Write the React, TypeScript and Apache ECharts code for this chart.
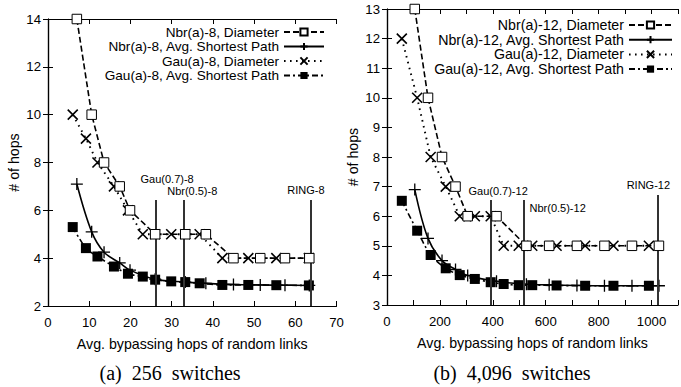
import React, { useEffect, useRef } from "react";
import * as echarts from "echarts";

// ---- (a) 256 switches ----
const nbrX8 = [7, 10.6, 13.6, 17.4, 19.9, 26, 33.3, 38.3, 45, 51.5, 57.5, 63.4];
const nbrDiaY8 = [14, 10, 8, 7, 6, 5, 5, 5, 4, 4, 4, 4];
const nbrAvgY8 = [7.1, 5.1, 4.25, 3.8, 3.5, 3.12, 3.0, 2.95, 2.9, 2.88, 2.87, 2.86];
const gauX8 = [6, 9.2, 12, 16, 19.4, 23, 26, 29.9, 33.3, 36.8, 42.3, 48.6, 55.4, 63.3];
const gauDiaY8 = [10, 9, 8, 7, 6, 5, 5, 5, 5, 5, 4, 4, 4, 4];
const gauAvgY8 = [5.3, 4.42, 4.07, 3.65, 3.35, 3.23, 3.1, 3.03, 3.0, 2.95, 2.88, 2.88, 2.87, 2.86];
const vlineX8 = [26.2, 32.9, 63.8];
const vlineTop8 = [6.43, 6.43, 6.43];
const annotNames8 = ["Gau(0.7)-8", "Nbr(0.5)-8", "RING-8"];
const annotX8 = [28.9, 35.0, 62.6];
const annotY8 = [7.31, 6.8, 6.85];

// ---- (b) 4,096 switches ----
const nbrX12 = [105, 155, 208, 259, 305, 414, 527, 613, 718, 822, 926, 1028];
const nbrDiaY12 = [13, 10, 8, 7, 6, 6, 5, 5, 5, 5, 5, 5];
const nbrAvgY12 = [6.9, 5.25, 4.5, 4.2, 4.0, 3.8, 3.7, 3.68, 3.66, 3.65, 3.65, 3.65];
const gauX12 = [56, 114, 165, 222, 275, 332, 392, 441, 498, 549, 641, 749, 856, 990];
const gauDiaY12 = [12, 10, 8, 7, 6, 6, 6, 5, 5, 5, 5, 5, 5, 5];
const gauAvgY12 = [6.52, 5.51, 4.69, 4.24, 4.01, 3.88, 3.77, 3.71, 3.67, 3.67, 3.66, 3.65, 3.65, 3.65];
const vlineX12 = [392, 517, 1022];
const vlineTop12 = [6.55, 6.55, 6.72];
const annotNames12 = ["Gau(0.7)-12", "Nbr(0.5)-12", "RING-12"];
const annotX12 = [420, 645, 988];
const annotY12 = [6.86, 6.28, 7.05];

const captions = ["(a)  256  switches", "(b)  4,096  switches"];
const xName = "Avg. bypassing hops of random links";
const yName = "# of hops";

const FONT = "Liberation Sans";
const PLUS = "path://M5,0L5,10M0,5L10,5";
const CROSS = "path://M0,0L10,10M10,0L0,10";

const zip = (xs: number[], ys: number[]) => xs.map((x, i) => [x, ys[i]]);

function vlines(vx: number[], vtop: number[], ymin: number) {
  return {
    silent: true,
    symbol: "none",
    animation: false,
    label: { show: false },
    lineStyle: { color: "#333", width: 2, type: "solid" },
    data: vx.map((x, i) => [{ coord: [x, ymin] }, { coord: [x, vtop[i]] }]),
  };
}

function lineSeries(name: string, data: number[][], idx: number, kind: string, markLine?: any) {
  const base: any = {
    type: "line",
    name,
    data,
    xAxisIndex: idx * 2,
    yAxisIndex: idx * 2,
    color: "#000",
    silent: true,
    emphasis: { disabled: true },
  };
  if (kind === "nbrDia") {
    return {
      ...base,
      symbol: "rect",
      symbolSize: 9.5,
      itemStyle: { color: "#fff", borderColor: "#000", borderWidth: 1 },
      lineStyle: { color: "#000", width: 1.6, type: [6, 3] },
      z: 5,
    };
  }
  if (kind === "nbrAvg") {
    return {
      ...base,
      symbol: PLUS,
      symbolSize: 12,
      smooth: 0.35,
      itemStyle: { color: "#000", borderColor: "#000", borderWidth: 1.3 },
      lineStyle: { color: "#000", width: 1.6, type: "solid" },
      markLine,
      z: 3,
    };
  }
  if (kind === "gauDia") {
    return {
      ...base,
      symbol: CROSS,
      symbolSize: 10,
      itemStyle: { color: "#000", borderColor: "#000", borderWidth: 1.6 },
      lineStyle: { color: "#000", width: 1.9, type: [1.6, 4.4] },
      z: 4,
    };
  }
  return {
    ...base,
    symbol: "rect",
    symbolSize: 10,
    smooth: 0.3,
    itemStyle: { color: "#000", borderColor: "#000", borderWidth: 0 },
    lineStyle: { color: "#000", width: 1.6, type: [6, 3, 2, 3] },
    z: 4,
  };
}

const axisCommon = {
  axisLine: { show: true, lineStyle: { color: "#000", width: 1.2 } },
  axisTick: { show: true, inside: true, length: 5, lineStyle: { color: "#000", width: 1 } },
  splitLine: { show: false },
};

function xAxes(gridIndex: number, max: number, interval: number, fmt: (v: number) => string) {
  return [
    {
      ...axisCommon,
      type: "value",
      gridIndex,
      position: "bottom",
      min: 0,
      max,
      interval,
      name: xName,
      nameLocation: "middle",
      nameGap: 31,
      nameTextStyle: { color: "#000", fontSize: 14.2, fontFamily: FONT },
      axisLabel: { color: "#000", fontSize: 13.2, fontFamily: FONT, margin: 10, formatter: fmt, showMaxLabel: true },
    },
    {
      ...axisCommon,
      type: "value",
      gridIndex,
      position: "top",
      min: 0,
      max,
      interval,
      axisLabel: { show: false },
    },
  ];
}

function yAxes(gridIndex: number, min: number, max: number, interval: number) {
  return [
    {
      ...axisCommon,
      type: "value",
      gridIndex,
      position: "left",
      min,
      max,
      interval,
      name: yName,
      nameLocation: "middle",
      nameGap: 27,
      nameTextStyle: { color: "#000", fontSize: 14.2, fontFamily: FONT },
      axisLabel: { color: "#000", fontSize: 13.2, fontFamily: FONT, margin: 7 },
    },
    {
      ...axisCommon,
      type: "value",
      gridIndex,
      position: "right",
      min,
      max,
      interval,
      axisLabel: { show: false },
    },
  ];
}

export default function App() {
  const ref = useRef<HTMLDivElement>(null);
  useEffect(() => {
    if (!ref.current) return;
    const chart = echarts.init(ref.current, undefined, { renderer: "svg" });
    const names8 = [
      "Nbr(a)-8, Diameter",
      "Nbr(a)-8, Avg. Shortest Path",
      "Gau(a)-8, Diameter",
      "Gau(a)-8, Avg. Shortest Path",
    ];
    const names12 = [
      "Nbr(a)-12, Diameter",
      "Nbr(a)-12, Avg. Shortest Path",
      "Gau(a)-12, Diameter",
      "Gau(a)-12, Avg. Shortest Path",
    ];
    const captionGraphics = [
      {
        type: "text",
        x: 170,
        y: 373,
        style: { text: captions[0], fontSize: 20, fontFamily: "Liberation Serif", fill: "#000", align: "center", verticalAlign: "middle" },
      },
      {
        type: "text",
        x: 512,
        y: 373,
        style: { text: captions[1], fontSize: 20, fontFamily: "Liberation Serif", fill: "#000", align: "center", verticalAlign: "middle" },
      },
    ];
    const option: any = {
      animation: false,
      backgroundColor: "#fff",
      textStyle: { fontFamily: FONT },
      grid: [
        { left: 48, top: 19, width: 288.5, height: 287 },
        { left: 387, top: 9, width: 298.4, height: 296 },
      ],
      xAxis: [
        ...xAxes(0, 70, 10, (v: number) => String(v)),
        ...xAxes(1, 1100, 100, (v: number) => (v % 200 === 0 ? String(v) : "")),
      ],
      yAxis: [...yAxes(0, 2, 14, 2), ...yAxes(1, 3, 13, 1)],
      legend: [
        {
          data: names8,
          orient: "vertical",
          align: "right",
          right: 356,
          top: 25,
          itemWidth: 40,
          itemHeight: 9,
          itemGap: 0.5,
          selectedMode: false,
          textStyle: { color: "#000", fontSize: 13.6, fontFamily: FONT, lineHeight: 13 },
          padding: 0,
        },
        {
          data: names12,
          orient: "vertical",
          align: "right",
          right: 8,
          top: 18,
          itemWidth: 43,
          itemHeight: 9,
          itemGap: 0.7,
          selectedMode: false,
          textStyle: { color: "#000", fontSize: 14.2, fontFamily: FONT, lineHeight: 14 },
          padding: 0,
        },
      ],
      graphic: captionGraphics,
      series: [
        lineSeries(names8[0], zip(nbrX8, nbrDiaY8), 0, "nbrDia"),
        lineSeries(names8[1], zip(nbrX8, nbrAvgY8), 0, "nbrAvg", vlines(vlineX8, vlineTop8, 2)),
        lineSeries(names8[2], zip(gauX8, gauDiaY8), 0, "gauDia"),
        lineSeries(names8[3], zip(gauX8, gauAvgY8), 0, "gauAvg"),
        lineSeries(names12[0], zip(nbrX12, nbrDiaY12), 1, "nbrDia"),
        lineSeries(names12[1], zip(nbrX12, nbrAvgY12), 1, "nbrAvg", vlines(vlineX12, vlineTop12, 3)),
        lineSeries(names12[2], zip(gauX12, gauDiaY12), 1, "gauDia"),
        lineSeries(names12[3], zip(gauX12, gauAvgY12), 1, "gauAvg"),
      ],
    };
    chart.setOption(option);

    // annotation texts, placed in data coordinates through the axes
    const annots: any[] = [];
    const addAnnots = (idx: number, names: string[], xs: number[], ys: number[]) => {
      names.forEach((n, i) => {
        const p = chart.convertToPixel({ xAxisIndex: idx * 2, yAxisIndex: idx * 2 } as any, [xs[i], ys[i]]) as number[];
        annots.push({
          type: "text",
          x: p[0],
          y: p[1],
          z: 10,
          style: { text: n, fontSize: 11, fontFamily: FONT, fill: "#000", align: "center", verticalAlign: "middle" },
        });
      });
    };
    addAnnots(0, annotNames8, annotX8, annotY8);
    addAnnots(1, annotNames12, annotX12, annotY12);
    chart.setOption({ graphic: [...captionGraphics, ...annots] });

    return () => chart.dispose();
  }, []);
  return (
    <div
      ref={ref}
      style={{ position: "fixed", left: 0, top: 0, width: 681, height: 387, background: "#fff", overflow: "hidden" }}
    />
  );
}
